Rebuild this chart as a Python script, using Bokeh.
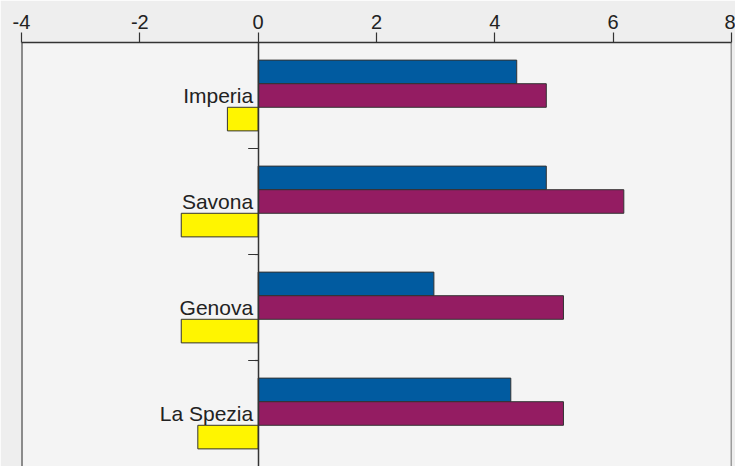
from bokeh.plotting import figure
from bokeh.models import (ColumnDataSource, FactorRange, Range1d, FixedTicker,
                          PrintfTickFormatter, Span)
from bokeh.transform import dodge
from bokeh.embed import file_html
from bokeh.resources import INLINE

# ---- data ----
cities = ["Imperia", "Savona", "Genova", "La Spezia"]
serie_blu = [4.37, 4.87, 2.97, 4.27]
serie_viola = [4.87, 6.18, 5.16, 5.16]
serie_gialla = [-0.52, -1.30, -1.30, -1.02]
x_ticks = [-4, -2, 0, 2, 4, 6, 8]

FONT = "Liberation Sans"
EDGE = "#333333"

src = ColumnDataSource(dict(city=cities, blu=serie_blu, viola=serie_viola,
                            gialla=serie_gialla))

p = figure(width=735, height=466, output_backend="svg", toolbar_location=None,
           x_range=Range1d(x_ticks[0], x_ticks[-1]),
           y_range=FactorRange(factors=cities[::-1], range_padding=0),
           x_axis_location="above", min_border_left=21, min_border_right=4,
           min_border_top=42, min_border_bottom=0)

p.background_fill_color = "#f4f4f4"
p.border_fill_color = "#eeeeee"
p.outline_line_color = None
p.grid.visible = False

bar_h = 0.2225
off = 0.2225
p.hbar(y=dodge("city", off, range=p.y_range), left=0, right="blu", height=bar_h,
       source=src, fill_color="#015ba0", line_color=EDGE, line_width=1)
p.hbar(y=dodge("city", 0, range=p.y_range), left=0, right="viola", height=bar_h,
       source=src, fill_color="#941c62", line_color=EDGE, line_width=1)
p.hbar(y=dodge("city", -off, range=p.y_range), left=0, right="gialla", height=bar_h,
       source=src, fill_color="#fff500", line_color=EDGE, line_width=1)

# boundary ticks between categories (on the zero axis, pointing left)
tick_len = 10 / 59.2  # ~10 px in data units
bsrc = ColumnDataSource(dict(city=cities[1:]))
p.segment(x0=-tick_len, x1=0, y0=dodge("city", 0.5, range=p.y_range),
          y1=dodge("city", 0.5, range=p.y_range), source=bsrc,
          line_color=EDGE, line_width=1.2)

# frame side lines
p.add_layout(Span(location=x_ticks[0], dimension="height", line_color="#222222",
                  line_width=2))
p.add_layout(Span(location=x_ticks[-1], dimension="height", line_color="#444444",
                  line_width=1.5))

# top x axis
xa = p.xaxis[0]
xa.ticker = FixedTicker(ticks=x_ticks)
xa.formatter = PrintfTickFormatter(format="%d")
xa.minor_tick_line_color = None
xa.major_tick_out = 10
xa.major_tick_in = 0
xa.major_label_standoff = 4
xa.axis_line_color = EDGE
xa.axis_line_width = 1.5
xa.major_tick_line_color = EDGE
xa.major_tick_line_width = 1.2
xa.major_label_text_font = FONT
xa.major_label_text_font_size = "20px"
xa.major_label_text_color = "#222222"

# category axis at x = 0
ya = p.yaxis[0]
ya.fixed_location = 0
ya.major_tick_out = 0
ya.major_tick_in = 0
ya.major_label_standoff = 5
ya.axis_line_color = EDGE
ya.axis_line_width = 1.5
ya.major_label_text_font = FONT
ya.major_label_text_font_size = "21px"
ya.major_label_text_color = "#222222"

open("out.html", "w").write(file_html(p, INLINE))
